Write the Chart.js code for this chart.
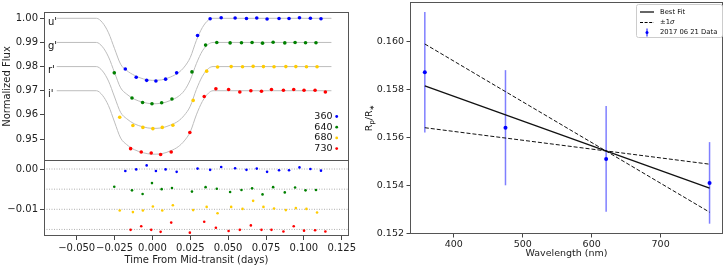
<!DOCTYPE html>
<html>
<head>
<meta charset="utf-8">
<script src="https://cdn.jsdelivr.net/npm/chart.js@4.4.1/dist/chart.umd.min.js"></script>
<style>
  body { margin: 0; background: #fff; }
  #wrap { position: relative; width: 725px; height: 267px; overflow: hidden; }
  canvas { position: absolute; }
</style>
</head>
<body>
<div id="wrap">
  <canvas id="flux" width="350" height="162" style="left:0;top:0"></canvas>
  <canvas id="resid" width="364" height="107" style="left:0;top:160px"></canvas>
  <canvas id="radius" width="375" height="267" style="left:350px;top:0"></canvas>
</div>
<script>
// light curve data
const bandNames = ["u'", "g'", "r'", "i'"];
const bandWaves = ["360", "640", "680", "730"];
const bandColors = ["#0000ff", "#008000", "#ffcc00", "#ff0000"];
const bandBase = [1.00, 0.99, 0.98, 0.97];
const residOffsets = [0, -0.005, -0.010, -0.015];

const uTime = [-0.0179, -0.0107, -0.0038, 0.0023, 0.0087, 0.0160, 0.0298, 0.0381, 0.0454, 0.0546, 0.0621, 0.0689, 0.0757, 0.0836, 0.0902, 0.0971, 0.1043, 0.1113];
const uFlux = [0.9790, 0.9756, 0.9743, 0.9740, 0.9748, 0.9774, 0.9929, 0.9998, 1.0002, 1.0001, 0.9999, 1.0001, 0.9997, 0.9999, 0.9999, 1.0002, 1.0000, 0.9998];
const uResid = [-0.0005, -0.0001, 0.0009, -0.0005, -0.0001, -0.0007, 0.0001, -0.0002, 0.0005, 0.0002, -0.0002, 0.0001, -0.0007, -0.0003, -0.0003, 0.0004, 0.0000, -0.0004];

const gTime = [-0.0252, -0.0135, -0.0065, -0.0003, 0.0061, 0.0129, 0.0261, 0.0351, 0.0425, 0.0513, 0.0588, 0.0658, 0.0727, 0.0797, 0.0874, 0.0942, 0.1011, 0.1080];
const gFlux = [0.9774, 0.9670, 0.9651, 0.9646, 0.9650, 0.9666, 0.9778, 0.9889, 0.9900, 0.9898, 0.9899, 0.9900, 0.9897, 0.9901, 0.9898, 0.9900, 0.9899, 0.9899];
const gResid = [-0.0044, -0.0053, -0.0062, -0.0035, -0.0050, -0.0047, -0.0056, -0.0045, -0.0049, -0.0057, -0.0052, -0.0048, -0.0063, -0.0045, -0.0058, -0.0046, -0.0053, -0.0052];

const rTime = [-0.0216, -0.0129, -0.0063, 0.0003, 0.0065, 0.0135, 0.0269, 0.0358, 0.0430, 0.0520, 0.0595, 0.0665, 0.0733, 0.0803, 0.0881, 0.0947, 0.1017, 0.1087];
const rFlux = [0.9590, 0.9556, 0.9548, 0.9543, 0.9548, 0.9557, 0.9660, 0.9781, 0.9798, 0.9800, 0.9799, 0.9801, 0.9800, 0.9799, 0.9800, 0.9800, 0.9799, 0.9799];
const rResid = [-0.0103, -0.0107, -0.0103, -0.0093, -0.0103, -0.0090, -0.0102, -0.0094, -0.0110, -0.0094, -0.0099, -0.0079, -0.0094, -0.0098, -0.0102, -0.0097, -0.0099, -0.0108];

const iTime = [-0.0144, -0.0074, -0.0008, 0.0054, 0.0124, 0.0247, 0.0342, 0.0419, 0.0503, 0.0577, 0.0650, 0.0720, 0.0786, 0.0865, 0.0933, 0.1001, 0.1074, 0.1142];
const iFlux = [0.9460, 0.9446, 0.9442, 0.9436, 0.9446, 0.9527, 0.9676, 0.9708, 0.9705, 0.9695, 0.9700, 0.9698, 0.9705, 0.9702, 0.9705, 0.9702, 0.9702, 0.9695];
const iResid = [-0.0151, -0.0142, -0.0151, -0.0156, -0.0133, -0.0158, -0.0131, -0.0146, -0.0154, -0.0151, -0.0140, -0.0151, -0.0151, -0.0155, -0.0142, -0.0153, -0.0152, -0.0155];

// model curves (gray)
const modelTime = [-0.0632, -0.037, -0.033, -0.029, -0.025, -0.021, -0.017, -0.012, -0.006, 0.000, 0.006, 0.012, 0.017, 0.021, 0.025, 0.029, 0.033, 0.037, 0.040, 0.1182];
const uModel = [1.0000, 1.0000, 0.9982, 0.9940, 0.9874, 0.9810, 0.9784, 0.9764, 0.9749, 0.9743, 0.9745, 0.9757, 0.9774, 0.9798, 0.9838, 0.9908, 0.9962, 0.9993, 1.0000, 1.0000];
const gModel = [0.9900, 0.9900, 0.9882, 0.9840, 0.9775, 0.9712, 0.9686, 0.9665, 0.9652, 0.9646, 0.9648, 0.9660, 0.9676, 0.9700, 0.9745, 0.9812, 0.9865, 0.9893, 0.9900, 0.9900];
const rModel = [0.9800, 0.9800, 0.9782, 0.9740, 0.9674, 0.9610, 0.9584, 0.9563, 0.9550, 0.9544, 0.9546, 0.9558, 0.9574, 0.9598, 0.9636, 0.9705, 0.9760, 0.9792, 0.9800, 0.9800];
const iModel = [0.9700, 0.9700, 0.9681, 0.9638, 0.9570, 0.9504, 0.9477, 0.9456, 0.9443, 0.9437, 0.9439, 0.9451, 0.9468, 0.9492, 0.9530, 0.9600, 0.9656, 0.9690, 0.9700, 0.9700];

// transmission spectrum
const wavelengths = [358, 475, 621, 771];
const radiusRatio = [0.15871, 0.15640, 0.15510, 0.15410];
const radiusErr = [0.00251, 0.00240, 0.00220, 0.00170];
const fitWaves = [358, 771];
const bestFit = [0.15814, 0.15388];
const sigmaHigh = [0.15989, 0.15288];
const sigmaLow = [0.15640, 0.15488];

const timeMin = -0.0716, timeMax = 0.1298;

Chart.defaults.font.family = "'DejaVu Sans', sans-serif";
Chart.defaults.color = "#222";

const bands = [
  { time: uTime, flux: uFlux, resid: uResid, model: uModel },
  { time: gTime, flux: gFlux, resid: gResid, model: gModel },
  { time: rTime, flux: rFlux, resid: rResid, model: rModel },
  { time: iTime, flux: iFlux, resid: iResid, model: iModel }
];

function pts(xs, ys) {
  return xs.map((x, i) => ({ x: x, y: ys[i] }));
}
function fmt(v, d) {
  if (Math.abs(v) < 1e-9) v = 0;
  return v.toFixed(d).replace("-", "\u2212");
}

// pin the plot area to fixed pixels so the three panels line up
const pinArea = {
  id: "pinArea",
  afterLayout(chart, args, o) {
    const a = chart.chartArea;
    a.left = o.left; a.top = o.top; a.right = o.right; a.bottom = o.bottom;
    a.width = o.right - o.left; a.height = o.bottom - o.top;
    Object.values(chart.scales).forEach(s => {
      if (s.isHorizontal()) {
        s.left = a.left; s.right = a.right; s.width = a.width;
        s.top = a.bottom; s.bottom = chart.height; s.height = s.bottom - s.top;
      } else {
        s.top = a.top; s.bottom = a.bottom; s.height = a.height;
        s.left = 0; s.right = a.left; s.width = a.left;
      }
      s.configure();
    });
  }
};

const framePlugin = {
  id: "frame",
  afterDraw(chart) {
    const a = chart.chartArea, ctx = chart.ctx;
    ctx.save();
    ctx.strokeStyle = "#555";
    ctx.lineWidth = 1;
    ctx.strokeRect(a.left + 0.5, a.top + 0.5, a.right - a.left - 1, a.bottom - a.top - 1);
    ctx.restore();
  }
};

const bandLabels = {
  id: "bandLabels",
  afterDatasetsDraw(chart) {
    const ctx = chart.ctx, a = chart.chartArea, y = chart.scales.y;
    ctx.save();
    ctx.font = "10px 'DejaVu Sans'";
    ctx.fillStyle = "#111";
    ctx.textBaseline = "middle";
    ctx.textAlign = "left";
    bandNames.forEach((n, i) => {
      ctx.fillText(n, a.left + 4, y.getPixelForValue(bandBase[i]) + 4);
    });
    // little legend in the lower right corner
    ctx.font = "9.5px 'DejaVu Sans'";
    ctx.textAlign = "right";
    bandWaves.forEach((w, i) => {
      const yy = a.bottom - 44.5 + i * 10.7;
      ctx.fillStyle = "#111";
      ctx.fillText(w, a.right - 16.5, yy);
      ctx.fillStyle = bandColors[i];
      ctx.beginPath();
      ctx.arc(a.right - 12.3, yy, 1.4, 0, Math.PI * 2);
      ctx.fill();
    });
    ctx.restore();
  }
};

const tickGrid = { drawOnChartArea: false, tickLength: 4, color: "#444" };

// top panel: light curves
const fluxSets = [];
bands.forEach((b, i) => {
  fluxSets.push({
    data: pts(b.time, b.flux),
    backgroundColor: bandColors[i], borderWidth: 0, pointRadius: 1.8, order: 0
  });
  fluxSets.push({
    data: pts(modelTime, b.model), showLine: true, borderColor: "#bdbdbd",
    borderWidth: 1, pointRadius: 0, cubicInterpolationMode: "monotone", order: 1
  });
});

new Chart(document.getElementById("flux"), {
  type: "scatter",
  data: { datasets: fluxSets },
  options: {
    responsive: false, animation: false, events: [],
    plugins: {
      legend: { display: false }, tooltip: { enabled: false },
      pinArea: { left: 44, top: 12, right: 349, bottom: 161 }
    },
    scales: {
      x: { type: "linear", min: timeMin, max: timeMax, display: false },
      y: {
        min: 0.94089, max: 1.00261,
        border: { display: false }, grid: tickGrid,
        ticks: { stepSize: 0.01, includeBounds: false, padding: 2, font: { size: 10 }, callback: v => fmt(v, 2) },
        title: { display: true, text: "Normalized Flux", font: { size: 10 }, padding: { top: 1, bottom: 0 } }
      }
    }
  },
  plugins: [pinArea, framePlugin, bandLabels]
});

// bottom panel: residuals
const residSets = [];
bands.forEach((b, i) => {
  residSets.push({
    data: pts(b.time, b.resid), backgroundColor: bandColors[i],
    borderWidth: 0, pointRadius: 1.3, order: 0
  });
  residSets.push({
    data: pts([timeMin, timeMax], [residOffsets[i], residOffsets[i]]), showLine: true,
    borderColor: "#9a9a9a", borderWidth: 0.8, borderDash: [1, 1.5], pointRadius: 0, order: 1
  });
});

new Chart(document.getElementById("resid"), {
  type: "scatter",
  data: { datasets: residSets },
  options: {
    responsive: false, animation: false, events: [],
    plugins: {
      legend: { display: false }, tooltip: { enabled: false },
      pinArea: { left: 44, top: 0, right: 349, bottom: 76 }
    },
    scales: {
      x: {
        type: "linear", min: timeMin, max: timeMax,
        border: { display: false }, grid: tickGrid,
        ticks: { stepSize: 0.025, includeBounds: false, autoSkip: false, maxRotation: 0, padding: 2, font: { size: 10 }, callback: v => fmt(v, 3) },
        title: { display: true, text: "Time From Mid-transit (days)", font: { size: 10 }, padding: { top: 0, bottom: 1 } }
      },
      y: {
        min: -0.01663, max: 0.00224,
        border: { display: false }, grid: tickGrid,
        ticks: { stepSize: 0.01, includeBounds: false, padding: 2, font: { size: 10 }, callback: v => fmt(v, 2) }
      }
    }
  },
  plugins: [pinArea, framePlugin]
});

// right panel: Rp/R* against wavelength
const specLegend = {
  id: "specLegend",
  afterDraw(chart) {
    const ctx = chart.ctx, a = chart.chartArea;
    const x0 = a.right - 87, y0 = a.top + 2, w = 86, h = 33;
    ctx.save();
    ctx.fillStyle = "rgba(255,255,255,0.85)";
    ctx.strokeStyle = "#cccccc";
    ctx.lineWidth = 1;
    ctx.beginPath();
    ctx.roundRect(x0 + 0.5, y0 + 0.5, w, h, 2);
    ctx.fill();
    ctx.stroke();
    const lx = x0 + 4, tx = x0 + 24;
    const rows = [y0 + 8, y0 + 18.5, y0 + 28.5];
    ctx.strokeStyle = "#000";
    ctx.lineWidth = 1.2;
    ctx.beginPath(); ctx.moveTo(lx, rows[0]); ctx.lineTo(lx + 14, rows[0]); ctx.stroke();
    ctx.lineWidth = 1;
    ctx.setLineDash([3, 1.6]);
    ctx.beginPath(); ctx.moveTo(lx, rows[1]); ctx.lineTo(lx + 14, rows[1]); ctx.stroke();
    ctx.setLineDash([]);
    ctx.strokeStyle = "#0000ff";
    ctx.beginPath(); ctx.moveTo(lx + 7, rows[2] - 4); ctx.lineTo(lx + 7, rows[2] + 4); ctx.stroke();
    ctx.fillStyle = "#0000ff";
    ctx.beginPath(); ctx.arc(lx + 7, rows[2], 1.5, 0, Math.PI * 2); ctx.fill();
    ctx.fillStyle = "#111";
    ctx.textBaseline = "middle";
    ctx.font = "6.8px 'DejaVu Sans'";
    ctx.fillText("Best Fit", tx, rows[0]);
    ctx.fillText("\u00b11", tx, rows[1]);
    const pw = ctx.measureText("\u00b11").width;
    ctx.font = "italic 6.8px 'DejaVu Sans'";
    ctx.fillText("\u03c3", tx + pw, rows[1]);
    ctx.font = "6.8px 'DejaVu Sans'";
    ctx.fillText("2017 06 21 Data", tx, rows[2]);

    // y title R_p / R_*
    const cy = (a.top + a.bottom) / 2;
    ctx.translate(20, cy);
    ctx.rotate(-Math.PI / 2);
    const big = "9.5px 'DejaVu Sans'", small = "6.8px 'DejaVu Sans'";
    const parts = [["R", big, 0], ["p", small, 2.5], ["/R", big, 0], ["\u2217", small, 2.5]];
    let total = 0;
    parts.forEach(p => { ctx.font = p[1]; total += ctx.measureText(p[0]).width; });
    let px = -total / 2;
    parts.forEach(p => {
      ctx.font = p[1];
      ctx.fillText(p[0], px, p[2]);
      px += ctx.measureText(p[0]).width;
    });
    ctx.restore();
  }
};

const specSets = [
  { data: pts(wavelengths, radiusRatio), backgroundColor: "#0000ff", borderWidth: 0, pointRadius: 2, order: 0 },
  { data: pts(fitWaves, bestFit), showLine: true, borderColor: "#111", borderWidth: 1.3, pointRadius: 0, order: 1 },
  { data: pts(fitWaves, sigmaHigh), showLine: true, borderColor: "#111", borderWidth: 1, borderDash: [4, 2], pointRadius: 0, order: 1 },
  { data: pts(fitWaves, sigmaLow), showLine: true, borderColor: "#111", borderWidth: 1, borderDash: [4, 2], pointRadius: 0, order: 1 }
];
wavelengths.forEach((w, i) => {
  specSets.push({
    data: pts([w, w], [radiusRatio[i] - radiusErr[i], radiusRatio[i] + radiusErr[i]]),
    showLine: true, borderColor: "rgba(0,0,255,0.5)", borderWidth: 1.5, pointRadius: 0, order: 2
  });
});

new Chart(document.getElementById("radius"), {
  type: "scatter",
  data: { datasets: specSets },
  options: {
    responsive: false, animation: false, events: [],
    plugins: {
      legend: { display: false }, tooltip: { enabled: false },
      pinArea: { left: 60, top: 2, right: 373, bottom: 234 }
    },
    scales: {
      x: {
        type: "linear", min: 336.5, max: 790.5,
        border: { display: false }, grid: { drawOnChartArea: false, tickLength: 3.5, color: "#444" },
        ticks: { stepSize: 100, includeBounds: false, autoSkip: false, maxRotation: 0, padding: 1, font: { size: 9.5 } },
        title: { display: true, text: "Wavelength (nm)", font: { size: 9.5 }, padding: { top: 0, bottom: 7.5 } }
      },
      y: {
        min: 0.15197, max: 0.16164,
        border: { display: false }, grid: { drawOnChartArea: false, tickLength: 3.5, color: "#444" },
        ticks: { stepSize: 0.002, includeBounds: false, padding: 2.5, font: { size: 9.5 }, callback: v => fmt(v, 3) }
      }
    }
  },
  plugins: [pinArea, framePlugin, specLegend]
});
</script>
</body>
</html>
